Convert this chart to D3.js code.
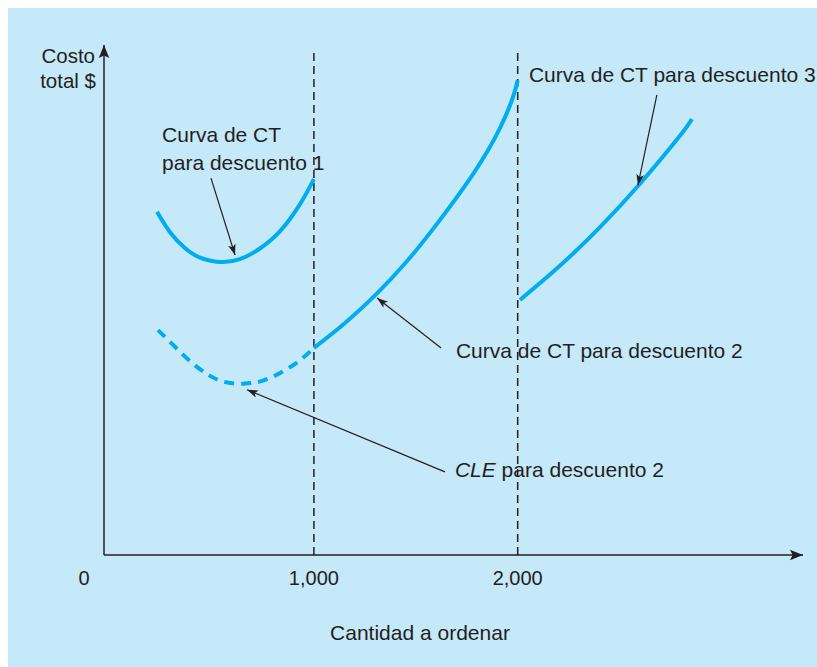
<!DOCTYPE html>
<html>
<head>
<meta charset="utf-8">
<script src="https://cdn.jsdelivr.net/npm/d3@7"></script>
<style>
  body { margin: 0; background: #fff; }
  text { font-family: "Liberation Sans", Arial, sans-serif; fill: #231f20; }
</style>
</head>
<body>
<script>
// order quantity (units) and total cost (arbitrary units)
var curve1 = [[230, 67.3], [294, 63.3], [367, 60.2], [441, 58.3], [539, 57.45], [637, 58.0], [735, 60.1], [834, 63.5], [932, 68.8], [1000, 73.7]];
var curve2Dashed = [[235, 44.1], [309, 41.2], [392, 38.0], [475, 35.5], [554, 34.0], [652, 33.6], [750, 34.2], [848, 36.0], [932, 38.2], [1000, 40.6]];
var curve2 = [[1000, 40.6], [1150, 45.4], [1310, 51.3], [1450, 57.3], [1584, 63.9], [1781, 74.7], [1913, 83.7], [1977, 89.8], [2000, 93.1]];
var curve3 = [[2011, 50], [2207, 56.7], [2404, 64.3], [2600, 72.8], [2796, 82.2], [2855, 85.5]];

var breaks = [1000, 2000];
var tickLabels = ['0', '1,000', '2,000'];
var tickValues = [0, 1000, 2000];

var labels = [
    {lines: ['Curva de CT', 'para descuento 1'], x: 255, y: 81, italic: ''},
    {lines: ['Curva de CT para descuento 3'], x: 2055, y: 92.7, italic: ''},
    {lines: ['Curva de CT para descuento 2'], x: 1697, y: 38.6, italic: ''},
    {lines: [' para descuento 2'], x: 1692, y: 15.3, italic: 'CLE'}
];
var arrows = [
    {from: [495, 73.9], to: [613, 58.8]},
    {from: [2683, 90.2], to: [2590, 72.5]},
    {from: [1624, 40.6], to: [1310, 50.4]},
    {from: [1643, 16.3], to: [672, 32.4]}
];

var W = 817, H = 667;
var svg = d3.select('body').append('svg')
    .attr('width', W)
    .attr('height', H);

svg.append('rect')
    .attr('x', 8).attr('y', 8)
    .attr('width', W - 8).attr('height', H - 8)
    .attr('fill', '#c6e9f9');

var defs = svg.append('defs');
defs.append('marker')
    .attr('id', 'head')
    .attr('viewBox', '0 0 10 10')
    .attr('refX', 10).attr('refY', 5)
    .attr('markerWidth', 11).attr('markerHeight', 11)
    .attr('markerUnits', 'userSpaceOnUse')
    .attr('orient', 'auto')
    .append('path')
    .attr('d', 'M0,1.5 L10,5 L0,8.5 L2.5,5 Z')
    .attr('fill', '#231f20');
defs.append('marker')
    .attr('id', 'axhead')
    .attr('viewBox', '0 0 10 10')
    .attr('refX', 10).attr('refY', 5)
    .attr('markerWidth', 13).attr('markerHeight', 13)
    .attr('markerUnits', 'userSpaceOnUse')
    .attr('orient', 'auto')
    .append('path')
    .attr('d', 'M0,1 L10,5 L0,9 L2,5 Z')
    .attr('fill', '#231f20');

var x = d3.scaleLinear().domain([-30, 3400]).range([104, 803]);
var y = d3.scaleLinear().domain([0, 100]).range([555, 45]);

// dashed quantity breaks
svg.selectAll('line.break')
    .data(breaks)
    .enter().append('line')
    .attr('class', 'break')
    .attr('x1', d => x(d)).attr('x2', d => x(d))
    .attr('y1', y(0)).attr('y2', y(99.4))
    .attr('stroke', '#231f20')
    .attr('stroke-width', 1.5)
    .attr('stroke-dasharray', '8,5');

// axes
svg.append('line')
    .attr('x1', x(-30)).attr('y1', y(0))
    .attr('x2', x(3400)).attr('y2', y(0))
    .attr('stroke', '#231f20').attr('stroke-width', 1.5)
    .attr('marker-end', 'url(#axhead)');
svg.append('line')
    .attr('x1', x(-30)).attr('y1', y(0))
    .attr('x2', x(-30)).attr('y2', y(100))
    .attr('stroke', '#231f20').attr('stroke-width', 1.5)
    .attr('marker-end', 'url(#axhead)');

svg.selectAll('text.tick')
    .data(tickValues)
    .enter().append('text')
    .attr('class', 'tick')
    .attr('x', d => d === 0 ? x(d) - 26 : x(d))
    .attr('y', y(0) + 30)
    .attr('text-anchor', 'middle')
    .attr('font-size', 20)
    .text((d, i) => tickLabels[i]);

svg.append('text')
    .attr('x', 420).attr('y', 640)
    .attr('text-anchor', 'middle')
    .attr('font-size', 21)
    .text('Cantidad a ordenar');

var yt = svg.append('text')
    .attr('text-anchor', 'end')
    .attr('font-size', 20.5);
yt.append('tspan').attr('x', 95).attr('y', 63).text('Costo');
yt.append('tspan').attr('x', 96).attr('y', 88).text('total $');

// curves
var line = d3.line()
    .x(d => x(d[0]))
    .y(d => y(d[1]))
    .curve(d3.curveNatural);

var blue = '#00aeef';
[curve1, curve2, curve3].forEach(c => {
    svg.append('path')
        .datum(c)
        .attr('d', line)
        .attr('fill', 'none')
        .attr('stroke', blue)
        .attr('stroke-width', 4);
});
svg.append('path')
    .datum(curve2Dashed)
    .attr('d', line)
    .attr('fill', 'none')
    .attr('stroke', blue)
    .attr('stroke-width', 4)
    .attr('stroke-dasharray', '10,7');

// annotations
svg.selectAll('line.arrow')
    .data(arrows)
    .enter().append('line')
    .attr('class', 'arrow')
    .attr('x1', d => x(d.from[0])).attr('y1', d => y(d.from[1]))
    .attr('x2', d => x(d.to[0])).attr('y2', d => y(d.to[1]))
    .attr('stroke', '#231f20')
    .attr('stroke-width', 1.2)
    .attr('marker-end', 'url(#head)');

labels.forEach(l => {
    var t = svg.append('text')
        .attr('font-size', 21);
    if (l.italic) {
        t.append('tspan')
            .attr('x', x(l.x)).attr('y', y(l.y))
            .attr('font-style', 'italic')
            .text(l.italic);
        t.append('tspan').text(l.lines[0]);
    } else {
        l.lines.forEach((s, i) => {
            t.append('tspan')
                .attr('x', x(l.x))
                .attr('y', y(l.y) + i * 28)
                .text(s);
        });
    }
});
</script>
</body>
</html>
